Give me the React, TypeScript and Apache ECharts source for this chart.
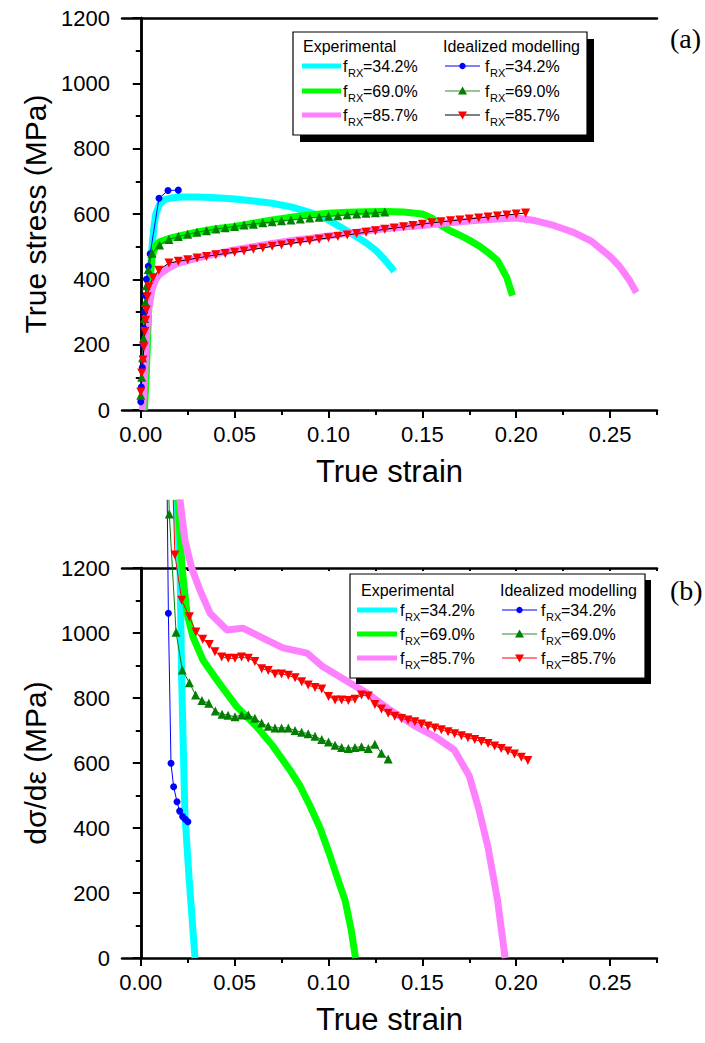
import React, { useEffect, useRef } from "react";
import * as echarts from "echarts";

// ---------- tick labels ----------
const xMajor = [0, 0.05, 0.1, 0.15, 0.2, 0.25];
const xMinor = [0.025, 0.075, 0.125, 0.175, 0.225, 0.275];
const xAllTop = [0, 0.025, 0.05, 0.075, 0.1, 0.125, 0.15, 0.175, 0.2, 0.225, 0.25, 0.275];
const legendValues = ["34.2%", "69.0%", "85.7%"];

// ---------- panel (a): true stress vs true strain ----------
const expA_342: number[][] = [
  [0.001, 0], [0.002, 40], [0.003, 150], [0.004, 300], [0.005, 420], [0.006, 500], [0.007, 560],
  [0.008, 600], [0.010, 630], [0.013, 645], [0.017, 650], [0.022, 652], [0.03, 652], [0.04, 650],
  [0.05, 646], [0.06, 640], [0.07, 633], [0.08, 622], [0.09, 605], [0.095, 594], [0.10, 582],
  [0.105, 565], [0.11, 548], [0.115, 530], [0.12, 512], [0.125, 490], [0.13, 460], [0.135, 425],
];
const expA_690: number[][] = [
  [0.002, 0], [0.003, 120], [0.004, 280], [0.005, 400], [0.006, 470], [0.008, 505], [0.01, 515],
  [0.015, 525], [0.02, 532], [0.03, 545], [0.04, 555], [0.05, 562], [0.06, 572], [0.07, 582],
  [0.08, 590], [0.09, 597], [0.10, 602], [0.11, 605], [0.12, 607], [0.13, 608], [0.14, 606],
  [0.15, 600], [0.155, 588], [0.16, 565], [0.165, 548], [0.17, 535], [0.175, 520], [0.18, 503],
  [0.185, 482], [0.19, 458], [0.195, 405], [0.198, 350],
];
const expA_857: number[][] = [
  [0.001, 0], [0.002, 100], [0.003, 220], [0.004, 300], [0.006, 370], [0.008, 400], [0.01, 415],
  [0.015, 435], [0.02, 450], [0.03, 465], [0.04, 478], [0.05, 490], [0.06, 500], [0.07, 510],
  [0.08, 518], [0.09, 525], [0.10, 533], [0.11, 540], [0.12, 548], [0.13, 555], [0.14, 560],
  [0.15, 565], [0.16, 571], [0.17, 576], [0.18, 581], [0.19, 585], [0.20, 588], [0.21, 580],
  [0.22, 565], [0.23, 545], [0.24, 517], [0.25, 470], [0.255, 440], [0.26, 400], [0.264, 360],
];
const modA_342: number[][] = [
  [0, 25], [0.0003, 70], [0.0008, 130], [0.0012, 200], [0.0016, 250], [0.002, 300], [0.0025, 350],
  [0.003, 400], [0.004, 440], [0.005, 478], [0.0097, 648], [0.0145, 672], [0.020, 673],
];
const modA_690: number[][] = [
  [0, 45], [0.0005, 100], [0.001, 160], [0.0015, 220], [0.002, 280], [0.0025, 330], [0.003, 380],
  [0.004, 430], [0.006, 480], [0.010, 505], [0.015, 522], [0.020, 531], [0.025, 538], [0.030, 544],
  [0.035, 549], [0.040, 554], [0.045, 558], [0.050, 562], [0.055, 566], [0.060, 569], [0.065, 573],
  [0.070, 576], [0.075, 579], [0.080, 582], [0.085, 585], [0.090, 588], [0.095, 590], [0.100, 593],
  [0.105, 595], [0.110, 598], [0.115, 600], [0.120, 602], [0.125, 604], [0.130, 606],
];
const modA_857: number[][] = [
  [0, 55], [0.0005, 113], [0.0012, 153], [0.0017, 194], [0.0022, 240], [0.0026, 275], [0.003, 306],
  [0.0035, 347], [0.0043, 377], [0.0065, 405], [0.0096, 428], [0.015, 450], [0.02, 455], [0.025, 460],
  [0.03, 465], [0.035, 470], [0.04, 475], [0.045, 479], [0.05, 483], [0.055, 487], [0.06, 492],
  [0.065, 496], [0.07, 501], [0.075, 505], [0.08, 510], [0.085, 514], [0.09, 518], [0.095, 523],
  [0.10, 527], [0.105, 531], [0.11, 536], [0.115, 540], [0.12, 544], [0.125, 549], [0.13, 553],
  [0.135, 557], [0.14, 561], [0.145, 565], [0.15, 569], [0.155, 573], [0.16, 576], [0.165, 579],
  [0.17, 582], [0.175, 585], [0.18, 588], [0.185, 591], [0.19, 594], [0.195, 597], [0.20, 600],
  [0.205, 603],
];

// ---------- panel (b): work hardening rate vs true strain ----------
const expB_342: number[][] = [
  [0.0191, 1410], [0.0209, 1200], [0.0218, 855], [0.0235, 446], [0.0258, 240], [0.0289, 0],
];
const expB_690: number[][] = [
  [0.0198, 1410], [0.022, 1200], [0.0246, 1061], [0.0278, 988], [0.0331, 917], [0.0406, 855],
  [0.0513, 772], [0.0619, 711], [0.070, 655], [0.0795, 578], [0.0848, 530], [0.090, 470],
  [0.0955, 400], [0.1005, 320], [0.1045, 250], [0.1088, 178], [0.112, 90], [0.1144, 0],
];
const expB_857: number[][] = [
  [0.0209, 1410], [0.0235, 1286], [0.0271, 1200], [0.0315, 1132], [0.0369, 1061], [0.0459, 1009],
  [0.0544, 1015], [0.0672, 978], [0.0758, 954], [0.0886, 938], [0.0971, 896], [0.1115, 846],
  [0.1205, 815], [0.1328, 763], [0.147, 711], [0.157, 680], [0.167, 640], [0.175, 560],
  [0.180, 460], [0.185, 340], [0.190, 180], [0.1941, 0],
];
const modB_342_lead = [0.0141, 1410];
const modB_342: number[][] = [
  [0.0147, 1061], [0.0161, 599], [0.0175, 527], [0.0193, 481], [0.0207, 452], [0.0223, 435],
  [0.0237, 427], [0.0251, 419],
];
const modB_690_lead = [0.0150, 1410];
const modB_690: number[][] = [
  [0.0152, 1366], [0.0188, 1002], [0.0221, 886], [0.0259, 847], [0.0292, 809], [0.0326, 792],
  [0.0362, 784], [0.0397, 760], [0.0433, 750], [0.0465, 747], [0.0502, 742], [0.0537, 748],
  [0.0573, 748], [0.0608, 738], [0.0644, 723], [0.0679, 713], [0.0715, 708], [0.075, 708],
  [0.0786, 708], [0.0822, 700], [0.0857, 695], [0.0892, 690], [0.0928, 682], [0.0964, 672],
  [0.1000, 665], [0.1035, 655], [0.1070, 648], [0.1106, 645], [0.1141, 648], [0.1176, 650],
  [0.1212, 645], [0.1247, 658], [0.1282, 630], [0.1318, 612],
];
const modB_857_lead = [0.0173, 1410];
const modB_857: number[][] = [
  [0.0182, 1240], [0.0218, 1101], [0.0259, 1050], [0.0294, 1003], [0.0330, 981], [0.0365, 965],
  [0.0395, 942], [0.0431, 926], [0.0466, 922], [0.0502, 922], [0.0537, 926], [0.0573, 922],
  [0.0608, 912], [0.0644, 890], [0.0679, 885], [0.0715, 874], [0.0750, 874], [0.0786, 870],
  [0.0822, 862], [0.0857, 850], [0.0892, 840], [0.0928, 832], [0.0964, 828], [0.1000, 805],
  [0.1035, 794], [0.1070, 794], [0.1106, 792], [0.1141, 796], [0.1176, 809], [0.1212, 806],
  [0.1247, 780], [0.1282, 766], [0.1318, 753], [0.1353, 744], [0.1389, 737], [0.1424, 732],
  [0.1460, 727], [0.1495, 720], [0.1530, 714], [0.1566, 708], [0.1601, 702], [0.1637, 696],
  [0.1672, 690], [0.1708, 684], [0.1743, 678], [0.1779, 672], [0.1814, 666], [0.1850, 660],
  [0.1885, 652], [0.1920, 645], [0.1956, 637], [0.1991, 628], [0.2027, 618], [0.2062, 608],
];

const FONT = "Arial, Liberation Sans, Helvetica, sans-serif";
const SERIF = "Times New Roman, Liberation Serif, serif";
const CYAN = "#00FFFF";
const LIME = "#00FF00";
const PINK = "#FF80FF";
const BLUE = "#0000FF";
const DGREEN = "#007F00";
const RED = "#FF0000";

function txt(x: number, y: number, text: string, size: number, family = FONT) {
  return {
    type: "text",
    x,
    y,
    z: 100,
    style: {
      text,
      fill: "#000",
      fontSize: size,
      fontFamily: family,
      textVerticalAlign: "middle",
      verticalAlign: "middle",
    },
  };
}

function fLabel(x: number, y: number, value: string) {
  return [txt(x, y, "f", 16), txt(x + 5, y + 7, "RX", 11), txt(x + 20, y, "=" + value, 16)];
}

function marker(kind: string, cx: number, cy: number, color: string): any {
  if (kind === "circle") {
    return { type: "circle", z: 101, shape: { cx, cy, r: 3.2 }, style: { fill: color } };
  }
  const h = 4.5;
  const pts =
    kind === "up"
      ? [[cx, cy - h], [cx + h, cy + h * 0.8], [cx - h, cy + h * 0.8]]
      : [[cx - h, cy - h * 0.8], [cx + h, cy - h * 0.8], [cx, cy + h]];
  return { type: "polygon", z: 101, shape: { points: pts }, style: { fill: color } };
}

function legend(cfg: any) {
  const els: any[] = [];
  const { bx, by, bw, bh, sh, hdrY, rows, expX1, expX2, expF, modX1, modX2, modF, expHdrX, modHdrX, modLines } = cfg;
  els.push({ type: "rect", z: 98, shape: { x: bx + sh, y: by + sh, width: bw, height: bh }, style: { fill: "#000" } });
  els.push({ type: "rect", z: 99, shape: { x: bx, y: by, width: bw, height: bh }, style: { fill: "#fff", stroke: "#000", lineWidth: 1.2 } });
  els.push(txt(expHdrX, hdrY, "Experimental", 16));
  els.push(txt(modHdrX, hdrY, "Idealized modelling", 16));
  const expCols = [CYAN, LIME, PINK];
  const kinds = ["circle", "up", "down"];
  const mkCols = [BLUE, DGREEN, RED];
  rows.forEach((ry: number, i: number) => {
    els.push({ type: "line", z: 100, shape: { x1: expX1, y1: ry, x2: expX2, y2: ry }, style: { stroke: expCols[i], lineWidth: 5 } });
    els.push(...fLabel(expF, ry, legendValues[i]));
    els.push({ type: "line", z: 100, shape: { x1: modX1, y1: ry, x2: modX2, y2: ry }, style: { stroke: modLines[i], lineWidth: 1.2 } });
    els.push(marker(kinds[i], (modX1 + modX2) / 2, ry, mkCols[i]));
    els.push(...fLabel(modF, ry, legendValues[i]));
  });
  return els;
}

function axesFor(grid: number, xName: string, yName: string, topTicks: boolean) {
  const base = { gridIndex: grid, type: "value", min: -0.01, max: 0.275, splitLine: { show: false } };
  const line = { show: true, lineStyle: { color: "#000", width: 2.5 } };
  const xAxes = [
    {
      ...base,
      position: "bottom",
      axisLine: line,
      axisTick: { show: true, customValues: xMajor, length: 8, lineStyle: { color: "#000", width: 2 } },
      axisLabel: {
        show: true,
        customValues: xMajor,
        formatter: (v: number) => v.toFixed(2),
        fontSize: 22,
        color: "#000",
        fontFamily: FONT,
        margin: 13,
      },
      name: xName,
      nameLocation: "middle",
      nameGap: 46,
      nameTextStyle: { fontSize: 31, color: "#000", fontFamily: FONT },
    },
    {
      ...base,
      position: "bottom",
      axisLine: { show: false },
      axisTick: { show: true, customValues: xMinor, length: 5, lineStyle: { color: "#000", width: 2 } },
      axisLabel: { show: false },
    },
    {
      ...base,
      position: "top",
      axisLine: line,
      axisTick: topTicks
        ? { show: true, inside: true, customValues: xAllTop, length: 3, lineStyle: { color: "#000", width: 2 } }
        : { show: false },
      axisLabel: { show: false },
    },
  ];
  const ybase = { gridIndex: grid, type: "value", min: 0, max: 1200, interval: 200, splitLine: { show: false } };
  const yAxes = [
    {
      ...ybase,
      position: "left",
      axisLine: line,
      axisTick: { show: true, length: 8, lineStyle: { color: "#000", width: 2 } },
      minorTick: { show: true, splitNumber: 2, length: 5, lineStyle: { color: "#000", width: 2 } },
      minorSplitLine: { show: false },
      axisLabel: { fontSize: 22, color: "#000", fontFamily: FONT, margin: 12, formatter: (v: number) => String(v) },
      name: yName,
      nameLocation: "middle",
      nameGap: 72,
      nameTextStyle: { fontSize: 30, color: "#000", fontFamily: FONT },
    },
    {
      ...ybase,
      position: "right",
      axisLine: line,
      axisTick: { show: true, inside: true, length: 4, lineStyle: { color: "#000", width: 2 } },
      minorTick: { show: true, splitNumber: 2, length: 4, lineStyle: { color: "#000", width: 2 } },
      axisLabel: { show: false },
    },
  ];
  return { xAxes, yAxes };
}

export default function App() {
  const ref = useRef<HTMLDivElement>(null);
  useEffect(() => {
    document.body.style.margin = "0";
    if (!ref.current) return;
    const chart = echarts.init(ref.current, undefined, { renderer: "svg" });
    const a = axesFor(0, "True strain", "True stress (MPa)", false);
    const b = axesFor(1, "True strain", "d\u03C3/d\u03B5 (MPa)", true);

    const exp = (data: number[][], color: string, xi: number, yi: number, clip: boolean) => ({
      type: "line",
      xAxisIndex: xi,
      yAxisIndex: yi,
      data,
      symbol: "none",
      showSymbol: false,
      clip,
      lineStyle: { color, width: 7 },
      z: 2,
    });
    const mod = (data: any[], symbol: string, rot: number, size: number, mcolor: string, lcolor: string, xi: number, yi: number, clip: boolean) => ({
      type: "line",
      xAxisIndex: xi,
      yAxisIndex: yi,
      data,
      symbol,
      symbolSize: size,
      symbolRotate: rot,
      showSymbol: true,
      clip,
      itemStyle: { color: mcolor },
      lineStyle: { color: lcolor, width: 1 },
      z: 3,
    });
    const lead = (p: number[], rest: number[][]) => [{ value: p, symbol: "none" }, ...rest];

    chart.setOption({
      animation: false,
      backgroundColor: "#fff",
      grid: [
        { left: 122, top: 18, width: 535, height: 392 },
        { left: 122, top: 568, width: 535, height: 390 },
      ],
      xAxis: [...a.xAxes, ...b.xAxes],
      yAxis: [...a.yAxes, ...b.yAxes],
      series: [
        exp(expA_342, CYAN, 0, 0, true),
        exp(expA_690, LIME, 0, 0, true),
        exp(expA_857, PINK, 0, 0, true),
        mod(modA_342, "circle", 0, 7, BLUE, BLUE, 0, 0, true),
        mod(modA_690, "triangle", 0, 9, DGREEN, DGREEN, 0, 0, true),
        mod(modA_857, "triangle", 180, 9, RED, "#000", 0, 0, true),
        exp(expB_342, CYAN, 3, 2, false),
        exp(expB_690, LIME, 3, 2, false),
        exp(expB_857, PINK, 3, 2, false),
        mod(lead(modB_342_lead, modB_342), "circle", 0, 7, BLUE, BLUE, 3, 2, false),
        mod(lead(modB_690_lead, modB_690), "triangle", 0, 9, DGREEN, DGREEN, 3, 2, false),
        mod(lead(modB_857_lead, modB_857), "triangle", 180, 9, RED, RED, 3, 2, false),
      ],
      graphic: [
        ...legend({
          bx: 293, by: 32, bw: 294, bh: 103, sh: 7, hdrY: 46, rows: [66, 91, 115],
          expX1: 302, expX2: 341, expF: 343, modX1: 445, modX2: 480, modF: 485,
          expHdrX: 303, modHdrX: 443, modLines: [BLUE, "#2E8B2E", "#000"],
        }),
        ...legend({
          bx: 350, by: 574, bw: 295, bh: 104, sh: 6, hdrY: 590, rows: [610, 634, 658],
          expX1: 357, expX2: 397, expF: 400, modX1: 502, modX2: 537, modF: 541,
          expHdrX: 361, modHdrX: 500, modLines: [BLUE, "#2E8B2E", RED],
        }),
        txt(670, 38, "(a)", 28, SERIF),
        txt(670, 590, "(b)", 28, SERIF),
      ],
    });
    return () => chart.dispose();
  }, []);
  return <div ref={ref} style={{ width: 705, height: 1043 }} />;
}
